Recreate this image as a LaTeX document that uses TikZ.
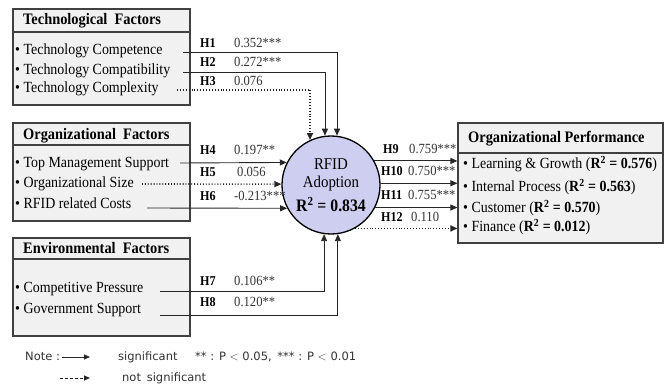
\documentclass[tikz,border=0pt]{standalone}
\usepackage{fontspec}
\setmainfont[FakeStretch=0.9]{Liberation Serif}
\setsansfont{DejaVu Sans}
\usetikzlibrary{arrows.meta}
\definecolor{boxgray}{RGB}{241,241,241}
\definecolor{edgegray}{RGB}{64,64,64}
\definecolor{adoptblue}{RGB}{206,206,240}
\definecolor{notegray}{RGB}{50,50,50}
\tikzset{
  factor/.style={draw=edgegray, line width=1.1pt, fill=boxgray, rectangle, inner sep=0pt},
  head/.style={anchor=west, inner sep=0pt, text height=11pt, text depth=3pt, font=\fontsize{16}{18}\selectfont\bfseries},
  item/.style={anchor=west, inner sep=0pt, text height=11pt, text depth=3pt, font=\fontsize{15.5}{17}\selectfont},
  hyp/.style={anchor=west, inner sep=0pt, text height=9pt, text depth=2pt, font=\fontsize{13.5}{15}\selectfont\bfseries},
  coef/.style={anchor=west, inner sep=0pt, text height=9pt, text depth=2pt, font=\fontsize{14}{15}\selectfont, text=black!80},
  sig/.style={draw=black!85, line width=0.9pt, -{Triangle[length=7pt,width=6pt]}},
  nsig/.style={sig, dotted, line width=1.6pt},
  note/.style={anchor=west, inner sep=0pt, text height=9pt, text depth=2pt, font=\sffamily\fontsize{11.5}{13}\selectfont, text=notegray},
}

\begin{document}
\begin{tikzpicture}[x=1pt,y=-1pt]
\useasboundingbox (0,0) rectangle (665,385);

% factor boxes
\node[factor, minimum width=177pt, minimum height=96pt] (tech) at (101.5,57) {};
\node[factor, minimum width=177pt, minimum height=98pt] (orga) at (101.5,172) {};
\node[factor, minimum width=177pt, minimum height=98pt] (envi) at (101.5,287) {};
\node[factor, minimum width=205pt, minimum height=120pt] (perf) at (560.5,183) {};
\draw[edgegray, line width=1.1pt] (tech.west |- 0,32) -- (tech.east |- 0,32);
\draw[edgegray, line width=1.1pt] (orga.west |- 0,145) -- (orga.east |- 0,145);
\draw[edgegray, line width=1.1pt] (envi.west |- 0,259) -- (envi.east |- 0,259);
\draw[edgegray, line width=1.1pt] (perf.west |- 0,153) -- (perf.east |- 0,153);

\node[head] (techhead) at (23,21) {Technological\ \ Factors};
\node[item] (tech1) at (15,51) {\textbullet\ Technology Competence};
\node[item] (tech2) at (15,71) {\textbullet\ Technology Compatibility};
\node[item] (tech3) at (15,89) {\textbullet\ Technology Complexity};

\node[head] (orgahead) at (23,136) {Organizational\ \ Factors};
\node[item] (orga1) at (15,164) {\textbullet\ Top Management Support};
\node[item] (orga2) at (15,184) {\textbullet\ Organizational Size};
\node[item] (orga3) at (15,205) {\textbullet\ RFID related Costs};

\node[head] (envihead) at (23,250) {Environmental\ \ Factors};
\node[item] (envi1) at (15,289) {\textbullet\ Competitive Pressure};
\node[item] (envi2) at (15,309) {\textbullet\ Government Support};

\node[head] (perfhead) at (468,139) {Organizational Performance};
\node[item] (perf1) at (463,165) {\textbullet\ Learning \& Growth (\textbf{R\textsuperscript{2} = 0.576})};
\node[item] (perf2) at (463,188) {\textbullet\ Internal Process (\textbf{R\textsuperscript{2} = 0.563})};
\node[item] (perf3) at (463,209) {\textbullet\ Customer (\textbf{R\textsuperscript{2} = 0.570})};
\node[item] (perf4) at (463,228) {\textbullet\ Finance (\textbf{R\textsuperscript{2} = 0.012})};

% RFID adoption
\node[circle, draw=black, line width=1.3pt, fill=adoptblue, minimum size=98pt, inner sep=0pt,
      align=center, font=\fontsize{16.5}{18}\selectfont] (rfid) at (331,185)
      {RFID\\Adoption\\[6pt]\textbf{\fontsize{17.5}{18}\selectfont R\textsuperscript{2} = 0.834}};

% starts of the paths
\coordinate (h1) at (183,52);
\coordinate (h2) at (183,72);
\coordinate (h3) at (177,90);
\coordinate (h4) at (180,163);
\coordinate (h5) at (142,184);
\coordinate (h6) at (147,208);
\coordinate (h7) at (160,291);
\coordinate (h8) at (160,315);

\draw[sig]  (h1) -| (rfid.83);
\draw[sig]  (h2) -| (rfid.97);
\draw[nsig] (h3) -| (rfid.115);
\draw[sig]  (h4) -- (rfid.153);
\draw[nsig] (h5) -- (rfid.179);
\draw[sig]  (h6) -- (rfid.208);
\draw[sig]  (h7) -| (rfid.262);
\draw[sig]  (h8) -| (rfid.278);

\draw[sig]  (rfid.29)  -- (rfid.29 -| perf.west);
\draw[sig]  (rfid.2)   -- (rfid.2 -| perf.west);
\draw[sig]  (rfid.333) -- (rfid.333 -| perf.west);
\draw[nsig] (rfid.299) -- (rfid.299 -| perf.west);

% path coefficients
\node[hyp] (lh1) at (200,44) {H1};   \node[coef] (vh1) at (234,44) {0.352***};
\node[hyp] (lh2) at (200,63) {H2};   \node[coef] (vh2) at (234,63) {0.272***};
\node[hyp] (lh3) at (200,82) {H3};   \node[coef] (vh3) at (234,82) {0.076};
\node[hyp] (lh4) at (200,151) {H4};  \node[coef] (vh4) at (234,151) {0.197**};
\node[hyp] (lh5) at (200,173) {H5};  \node[coef] (vh5) at (237,173) {0.056};
\node[hyp] (lh6) at (200,197) {H6};  \node[coef] (vh6) at (234,197) {-0.213***};
\node[hyp] (lh7) at (200,282) {H7};  \node[coef] (vh7) at (234,282) {0.106**};
\node[hyp] (lh8) at (200,303) {H8};  \node[coef] (vh8) at (234,303) {0.120**};
\node[hyp] (lh9) at (383,150) {H9};  \node[coef] (vh9) at (409,150) {0.759***};
\node[hyp] (lh10) at (381,172) {H10}; \node[coef] (vh10) at (408,172) {0.750***};
\node[hyp] (lh11) at (381,196) {H11}; \node[coef] (vh11) at (408,196) {0.755***};
\node[hyp] (lh12) at (381,218) {H12}; \node[coef] (vh12) at (411,218) {0.110};

% note
\node[note] (notelab) at (25,357) {Note :};
\coordinate (leg1a) at (62,357);
\coordinate (leg1b) at (90,357);
\coordinate (leg2a) at (60,378);
\coordinate (leg2b) at (90,378);
\draw[draw=black!85, line width=0.8pt, -{Triangle[length=6pt,width=5pt]}] (leg1a) -- (leg1b);
\draw[draw=black!85, line width=0.8pt, dash pattern=on 3pt off 2pt, -{Triangle[length=6pt,width=5pt]}] (leg2a) -- (leg2b);
\node[note] (notesig) at (118,357) {significant};
\node[note] (notep) at (195,357) {** : P $<$ 0.05,\enspace *** : P $<$ 0.01};
\node[note] (notensig) at (122,378) {not\enspace significant};
\end{tikzpicture}
\end{document}
